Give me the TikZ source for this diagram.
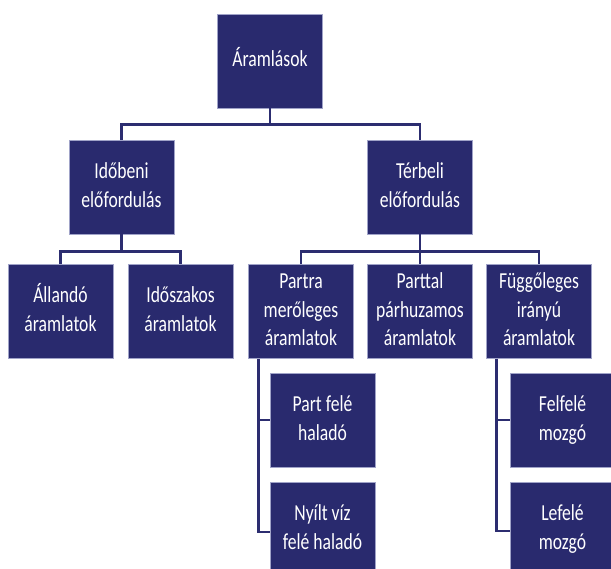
\documentclass[tikz,border=0pt]{standalone}
\usepackage{graphicx}
\usepackage{fontspec}
\setmainfont{Carlito}
\definecolor{boxfill}{RGB}{41,42,110}
\definecolor{connc}{RGB}{44,45,112}
\definecolor{boxedge}{RGB}{160,163,200}
\newcommand\tl[1]{\raisebox{-3pt}{\scalebox{1}[1.3]{\begin{tabular}{@{}c@{}}#1\end{tabular}}}}
\tikzset{
  box/.style={rectangle, fill=boxfill, draw=boxedge, line width=0.7pt,
    minimum width=105pt, minimum height=94pt, inner sep=0pt,
    text=white, font=\fontsize{17.6}{22}\selectfont},
  conn/.style={draw=connc, line width=2.6pt}
}
\begin{document}
\begin{tikzpicture}[x=1pt,y=-1pt]
\clip (0,0) rectangle (611,569);
\fill[white] (0,0) rectangle (611,569);
\node[box] (root) at (270,61) {\tl{Áramlások}};
\node[box] (idob) at (121.5,187) {\tl{Időbeni\\előfordulás}};
\node[box] (terb) at (420,187) {\tl{Térbeli\\előfordulás}};
\node[box] (alland) at (60.5,311.5) {\tl{Állandó\\áramlatok}};
\node[box] (idosz) at (180.5,311.5) {\tl{Időszakos\\áramlatok}};
\node[box] (partra) at (301,311.5) {\tl{Partra\\merőleges\\áramlatok}};
\node[box] (parttal) at (420,311.5) {\tl{Parttal\\párhuzamos\\áramlatok}};
\node[box] (fugg) at (539,311.5) {\tl{Függőleges\\irányú\\áramlatok}};
\node[box] (partfele) at (322.5,420) {\tl{Part felé\\haladó}};
\node[box] (nyilt) at (322.5,529) {\tl{Nyílt víz\\felé haladó}};
\node[box] (felfele) at (562.5,420) {\tl{Felfelé\\mozgó}};
\node[box] (lefele) at (562.5,529) {\tl{Lefelé\\mozgó}};
\draw[conn] (root.south) -- ++(0,16) -| (idob.north);
\draw[conn] (root.south) -- ++(0,16) -| (terb.north);
\draw[conn] (idob.south) -- ++(0,17) -| (alland.north);
\draw[conn] (idob.south) -- ++(0,17) -| (idosz.north);
\draw[conn] (terb.south) -- ++(0,17) -| (partra.north);
\draw[conn] (terb.south) -- (parttal.north);
\draw[conn] (terb.south) -- ++(0,17) -| (fugg.north);
\draw[conn] ([xshift=10.5pt]partra.south west) |- (partfele.west);
\draw[conn] ([xshift=10.5pt]partra.south west) |- ([yshift=-3pt]nyilt.west);
\draw[conn] ([xshift=10.5pt]fugg.south west) |- (felfele.west);
\draw[conn] ([xshift=10.5pt]fugg.south west) |- ([yshift=-2pt]lefele.west);
\end{tikzpicture}
\end{document}
